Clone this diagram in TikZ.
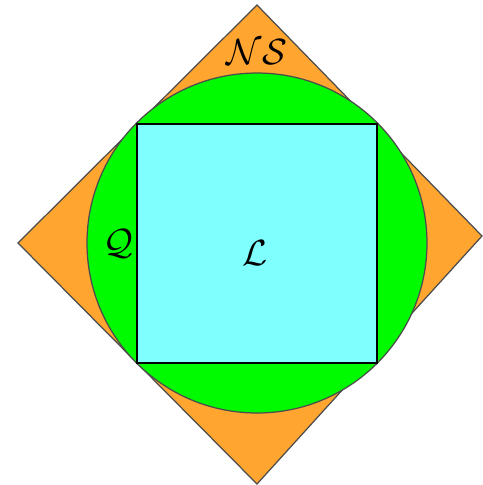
\documentclass[tikz,border=0pt]{standalone}
\usepackage{amsmath,amssymb}
\usepackage{xcolor}
\usetikzlibrary{positioning,calc}
\definecolor{setorange}{RGB}{255,165,48}
\definecolor{setgreen}{RGB}{0,250,0}
\definecolor{setcyan}{RGB}{128,255,255}
\tikzset{
  reg/.style={draw=black!70,line width=0.7pt},
  sqr/.style={draw=black,line width=1pt,fill=setcyan},
  lbl/.style={font=\fontsize{21}{23}\selectfont,inner sep=0pt},
}

\begin{document}
\begin{tikzpicture}[x=0.02cm,y=-0.02cm]
  \useasboundingbox (0,0) rectangle (483,485);
  % outer diamond
  \draw[reg,fill=setorange] (257,5) -- (482,236) -- (257,484) -- (18,243) -- cycle;
  % circle through the square corners
  \draw[reg,fill=setgreen] (257,243) circle[radius=170];
  % inner square
  \draw[sqr] (137,124) rectangle (377,363);
  \node[lbl] (ns) at (257,52) {$\mathcal{N}\mathcal{S}$};
  \node[lbl] (q) at (118,244) {$\mathcal{Q}$};
  \node[lbl] (l) at (255,253) {$\mathcal{L}$};
\end{tikzpicture}
\end{document}
